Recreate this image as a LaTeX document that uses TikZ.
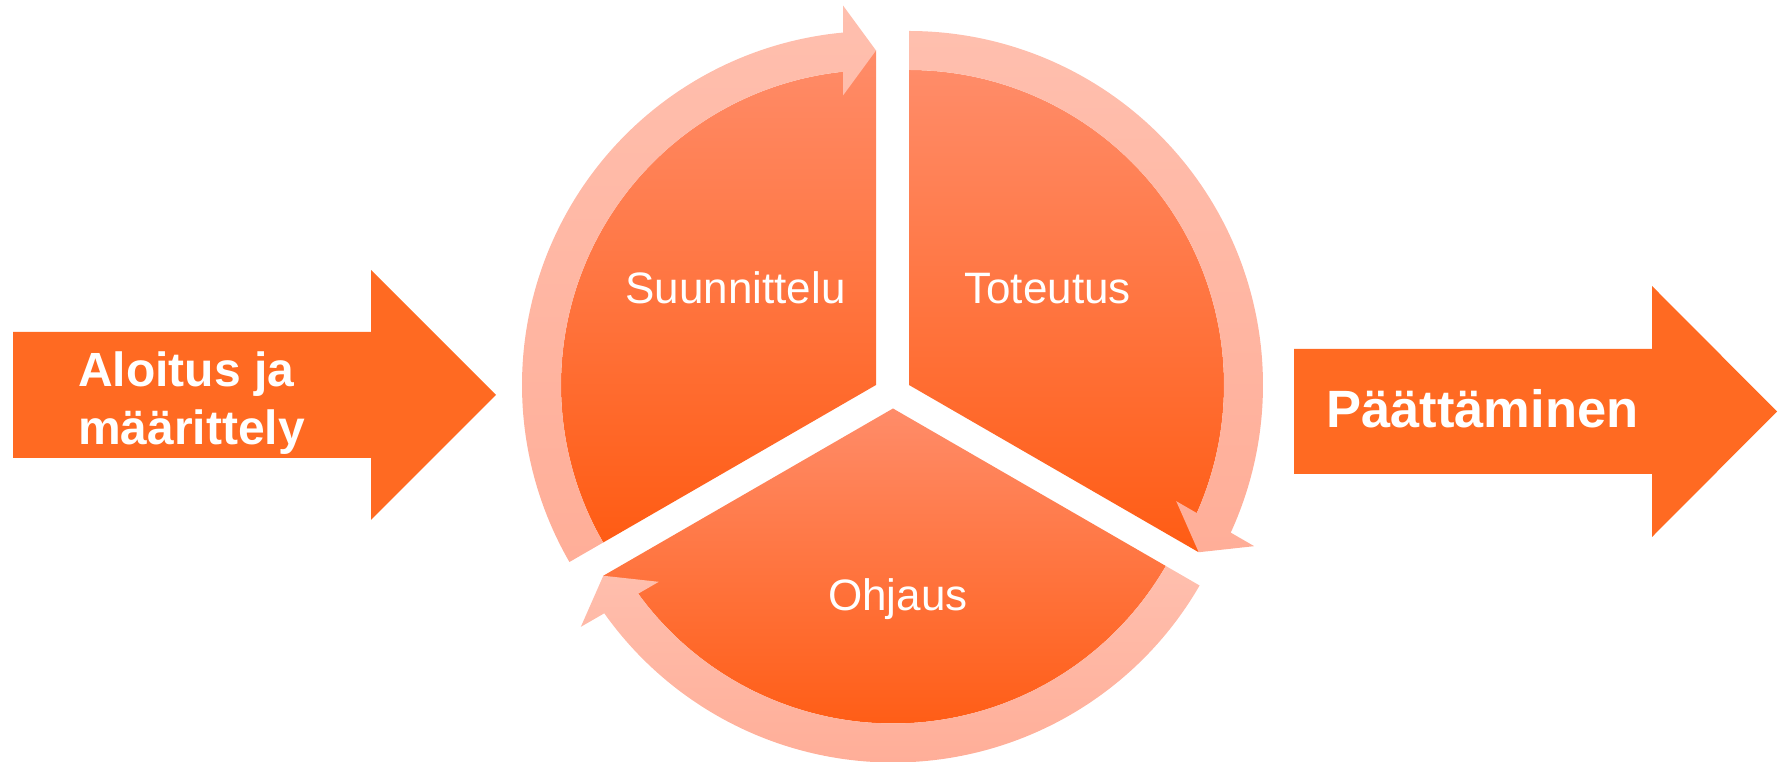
\documentclass[tikz,border=0pt]{standalone}
\usepackage{fontspec}
\setmainfont{Liberation Sans}
\usetikzlibrary{calc}
\definecolor{arroworange}{HTML}{FF6A22}
\definecolor{sectortop}{HTML}{FF8C69}
\definecolor{sectorbot}{HTML}{FF5C14}
\definecolor{ringtop}{HTML}{FFBFAE}
\definecolor{ringbot}{HTML}{FFAE98}
\tikzset{sector/.style={top color=sectortop, bottom color=sectorbot, draw=none},
ring/.style={top color=ringtop, bottom color=ringbot, draw=none},
bigarrow/.style={fill=arroworange, draw=none},
phase/.style={text=white, inner sep=0pt, font=\fontsize{44}{53}\selectfont},
arrowtext/.style={text=white, inner sep=0pt, align=left, font=\bfseries\fontsize{48}{58}\selectfont}
}

\begin{document}
\begin{tikzpicture}[x=1pt, y=1pt]
\useasboundingbox (0,0) rectangle (1781,762);
% centres of the three segments
\coordinate (s) at (876,377);
\coordinate (t) at (909,377);
\coordinate (o) at (893,353.5);
% segments
\path[sector] (s) -- ($(s)+(90:334.5)$) -- ($(s)+(96.01:315)$) arc[start angle=96.01, end angle=210, radius=315] -- cycle;
\path[sector] (t) -- ++(90:315) arc[start angle=90, end angle=-23.99, radius=315] -- ($(t)+(-30:334.5)$) -- cycle;
\path[sector] (o) -- ($(o)+(210:334.5)$) -- ($(o)+(216.01:315)$) arc[start angle=216.01, end angle=330, radius=315] -- cycle;
% arc arrows round the segments
\path[ring] ($(s)+(210:315)$) -- ($(s)+(210:354)$) arc[start angle=210, end angle=95.35, radius=354]
  -- ($(s)+(90:334.5)+(180:33)+(90:45)$) -- ($(s)+(90:334.5)$) -- ($(s)+(90:334.5)+(180:33)+(270:45)$)
  -- ($(s)+(96.01:315)$) arc[start angle=96.01, end angle=210, radius=315] -- cycle;
\path[ring] ($(t)+(90:315)$) -- ($(t)+(90:354)$) arc[start angle=90, end angle=-24.65, radius=354]
  -- ($(t)+(-30:334.5)+(60:33)+(-30:45)$) -- ($(t)+(-30:334.5)$) -- ($(t)+(-30:334.5)+(60:33)+(150:45)$)
  -- ($(t)+(-23.99:315)$) arc[start angle=-23.99, end angle=90, radius=315] -- cycle;
\path[ring] ($(o)+(330:315)$) -- ($(o)+(330:354)$) arc[start angle=330, end angle=215.35, radius=354]
  -- ($(o)+(210:334.5)+(300:33)+(210:45)$) -- ($(o)+(210:334.5)$) -- ($(o)+(210:334.5)+(300:33)+(30:45)$)
  -- ($(o)+(216.01:315)$) arc[start angle=216.01, end angle=330, radius=315] -- cycle;
% big arrows
\path[bigarrow] (13,304) -- (13,430) -- (371,430) -- (371,492) -- (496,367)
  -- (371,242) -- (371,304) -- cycle;
\path[bigarrow] (1294,288) -- (1294,413) -- (1652,413) -- (1652,476) -- (1777,350.5)
  -- (1652,225) -- (1652,288) -- cycle;
% texts
\node[phase, anchor=base] (suunnittelu) at (735.5,458) {Suunnittelu};
\node[phase, anchor=base] (toteutus) at (1047.5,458) {Toteutus};
\node[phase, anchor=base] (ohjaus) at (898,151) {Ohjaus};
\node[arrowtext, anchor=base west] (aloitus) at (78,317) {Aloitus ja\\määrittely};
\node[arrowtext, anchor=base west, font=\bfseries\fontsize{52.5}{63}\selectfont] (paattaminen) at (1326,334) {Päättäminen};
\end{tikzpicture}
\end{document}
